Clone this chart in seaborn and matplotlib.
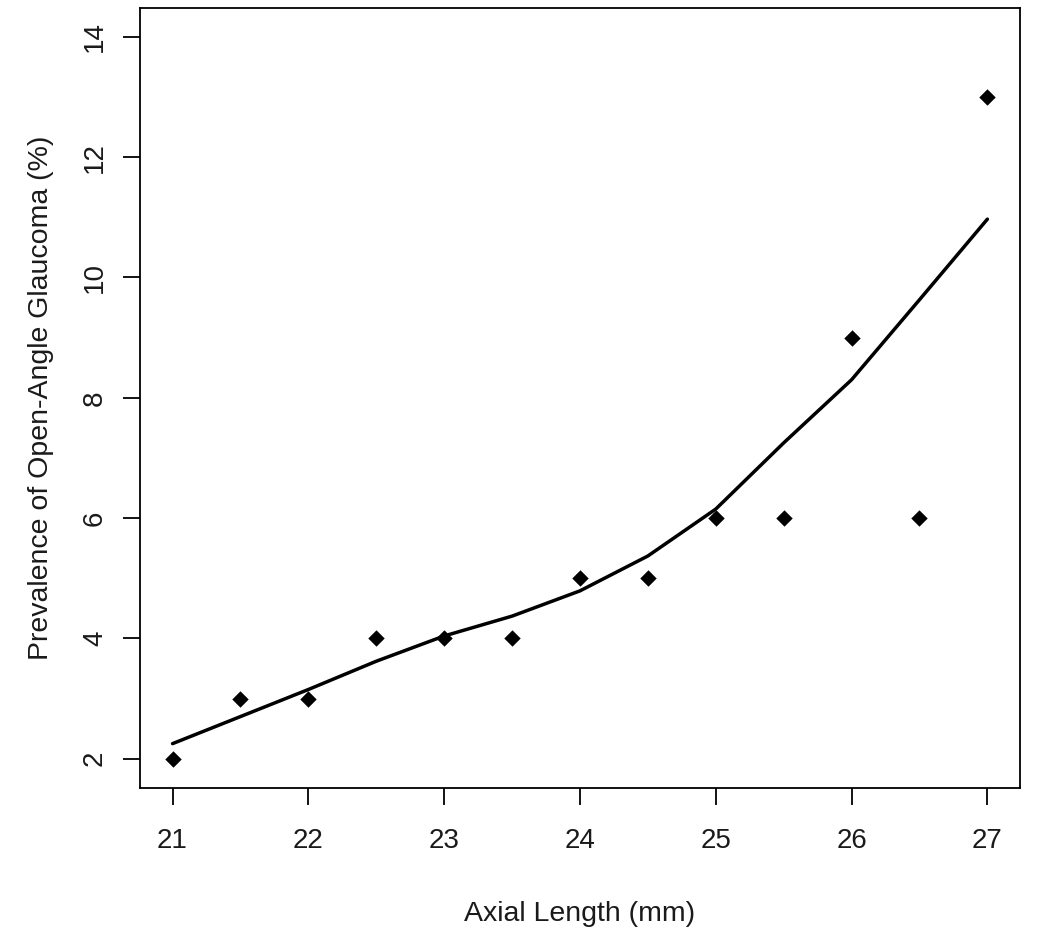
import matplotlib
matplotlib.use("Agg")
import matplotlib.pyplot as plt
import seaborn as sns
import pandas as pd

# Data
axial_length = [21, 21.5, 22, 22.5, 23, 23.5, 24, 24.5, 25, 25.5, 26, 26.5, 27]
prevalence = [2, 3, 3, 4, 4, 4, 5, 5, 6, 6, 9, 6, 13]
smooth_fit = [2.25, 2.70, 3.15, 3.62, 4.04, 4.37, 4.79, 5.37, 6.15, 7.25, 8.30, 9.63, 10.97]
x_ticks = [21, 22, 23, 24, 25, 26, 27]
y_ticks = [2, 4, 6, 8, 10, 12, 14]

sns.set_theme(style="white")
plt.rcParams['font.family'] = ['Liberation Sans', 'DejaVu Sans']

df_pts = pd.DataFrame({"x": axial_length, "y": prevalence})
df_fit = pd.DataFrame({"x": axial_length, "y": smooth_fit})

fig = plt.figure(figsize=(10.5, 9.46), dpi=100)
ax = fig.add_axes([0.1333, 0.1675, 0.8381, 0.824])

sns.lineplot(data=df_fit, x="x", y="y", ax=ax, color="black", linewidth=2.5, estimator=None)
sns.scatterplot(data=df_pts, x="x", y="y", ax=ax, color="black", marker="D", s=70,
                edgecolor="black", linewidth=0)

ax.set_xlim(20.76, 27.24)
ax.set_ylim(1.52, 14.48)
ax.set_xticks(x_ticks)
ax.set_yticks(y_ticks)
ax.set_xticklabels([str(t) for t in x_ticks], fontsize=20)
ax.set_yticklabels([str(t) for t in y_ticks], fontsize=20, rotation=90, va="center")
ax.tick_params(axis="both", direction="out", length=12, width=1.3, color="black",
               labelcolor="#1a1a1a", bottom=True, left=True)
ax.tick_params(axis="x", pad=17)
ax.tick_params(axis="y", pad=11)
for s in ax.spines.values():
    s.set_color("black")
    s.set_linewidth(1.3)

ax.set_xlabel("Axial Length (mm)", fontsize=20.5, color="#1a1a1a", labelpad=34)
ax.set_ylabel("Prevalence of Open-Angle Glaucoma (%)", fontsize=20.5, color="#1a1a1a", labelpad=20)

fig.savefig("out.png", dpi=100, facecolor="white")
